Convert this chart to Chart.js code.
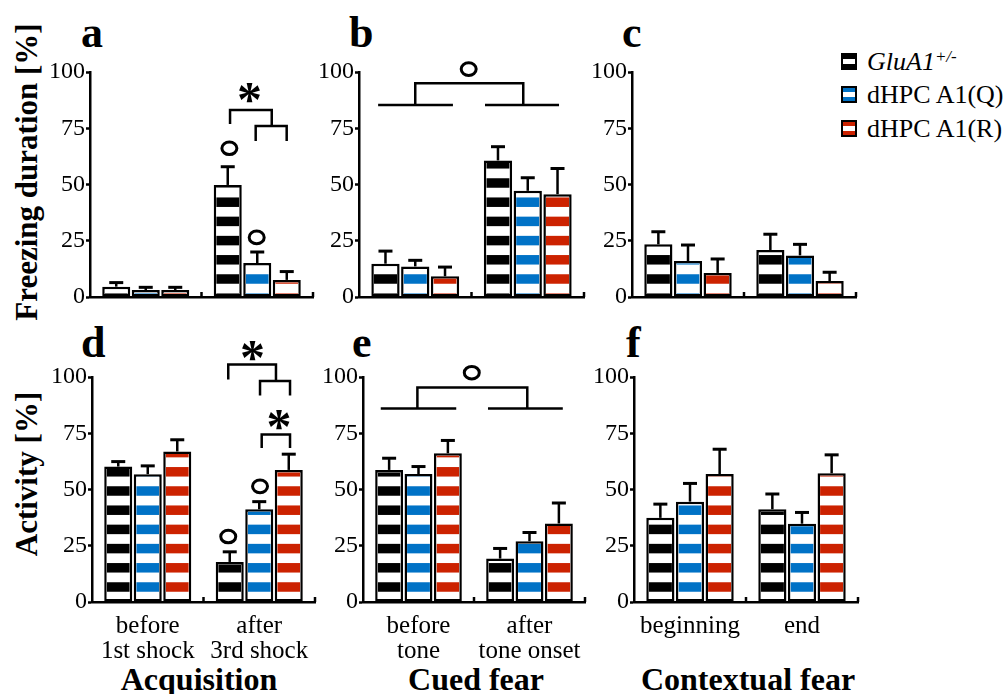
<!DOCTYPE html>
<html>
<head>
<meta charset="utf-8">
<script src="https://cdn.jsdelivr.net/npm/chart.js@4.4.1/dist/chart.umd.min.js"></script>
<style>
  body { margin: 0; background: #fff; width: 1005px; height: 694px; position: relative; overflow: hidden;
         font-family: "Liberation Serif", "Times New Roman", serif; color: #000; }
  canvas { position: absolute; }
  .t { position: absolute; line-height: 1; white-space: nowrap; }
  .letter { font-weight: bold; font-size: 44px; }
  .ytitle { font-weight: bold; font-size: 31px; transform: translate(-50%, -50%) rotate(-90deg); }
  .group { font-weight: bold; font-size: 32px; width: 300px; text-align: center; }
  .box { position: absolute; left: 841px; width: 16px; height: 17px; box-sizing: border-box; border: 2px solid #000;
         background: linear-gradient(var(--c) 0 34%, #fff 34% 66%, var(--c) 66% 100%); }
  .leg { left: 867px; font-size: 26px; }
</style>
</head>
<body>

<div class="t letter" style="left:81px;top:11px">a</div>
<div class="t letter" style="left:349px;top:11px">b</div>
<div class="t letter" style="left:622px;top:11px">c</div>
<div class="t letter" style="left:81px;top:321px">d</div>
<div class="t letter" style="left:352px;top:321px">e</div>
<div class="t letter" style="left:626px;top:321px">f</div>

<div class="t ytitle" style="left:26px;top:172px">Freezing duration [%]</div>
<div class="t ytitle" style="left:26px;top:474px">Activity [%]</div>

<div class="t group" style="left:49px;top:663px">Acquisition</div>
<div class="t group" style="left:326px;top:663px">Cued fear</div>
<div class="t group" style="left:598px;top:663px">Contextual fear</div>

<div class="box" style="top:53px;--c:#000"></div>
<div class="t leg" style="top:49px"><i>GluA1</i><i style="font-size:17px;position:relative;top:-8px">+/-</i></div>
<div class="box" style="top:86px;--c:#0072c6"></div>
<div class="t leg" style="top:82px">dHPC A1(Q)</div>
<div class="box" style="top:120px;--c:#cc2200"></div>
<div class="t leg" style="top:116px">dHPC A1(R)</div>

<script>
const SERIES = ['GluA1+/-', 'dHPC A1(Q)', 'dHPC A1(R)'];
const STRIPES = ['#000000', '#0072c6', '#cc2200'];
const acqLabels = [['before', '1st shock'], ['after', '3rd shock']];
const cueLabels = [['before', 'tone'], ['after', 'tone onset']];
const ctxLabels = ['beginning', 'end'];

// freezing duration [%], rows = GluA1+/-, A1(Q), A1(R); columns = the two periods
const frzAcqMean = [[4.6, 49.8], [3.1, 15.1], [3.1, 7.6]];
const frzAcqErr  = [[1.8, 8.1], [1.2, 4.9], [1.2, 3.7]];
const frzCueMean = [[14.8, 60.7], [13.6, 47.2], [9.2, 45.7]];
const frzCueErr  = [[5.6, 6.1], [2.7, 5.8], [4.1, 11.4]];
const frzCtxMean = [[23.4, 20.9], [16.0, 18.5], [10.7, 7.1]];
const frzCtxErr  = [[5.6, 7.0], [7.1, 4.9], [6.2, 3.9]];

// activity [%]
const actAcqMean = [[60.2, 17.8], [56.8, 41.2], [66.9, 58.7]];
const actAcqErr  = [[2.2, 4.5], [3.7, 3.4], [5.2, 7.0]];
const actCueMean = [[58.7, 19.3], [56.9, 27.0], [66.1, 34.9]];
const actCueErr  = [[5.2, 4.5], [3.3, 3.9], [5.7, 9.1]];
const actCtxMean = [[37.4, 41.2], [44.6, 34.8], [56.9, 57.2]];
const actCtxErr  = [[6.1, 6.8], [8.1, 5.0], [11.0, 8.2]];

// significance marks, x in category units (0 = first period, 1 = second), y in %
const marksA = {
  circles: [{ x: 0.75, y: 66.1 }, { x: 0.995, y: 26.5 }],
  brackets: [{ x1: 0.756, x2: 1.13, y: 83.1, y1: 76.9, y2: 76 }, { x1: 0.986, x2: 1.264, y: 76, y1: 69.3, y2: 69.3 }],
  stars: [{ x: 0.93, y: 90.7 }], lines: []
};
const marksB = {
  circles: [{ x: 0.475, y: 101.3 }],
  brackets: [{ x1: 0, x2: 0.96, y: 95, y1: 85.3, y2: 85.3 }],
  stars: [], lines: [{ x1: -0.33, x2: 0.335, y: 85.3 }, { x1: 0.62, x2: 1.278, y: 85.3 }]
};
const marksD = {
  circles: [{ x: 0.722, y: 29.1 }, { x: 1.007, y: 51.4 }],
  brackets: [{ x1: 0.722, x2: 1.15, y: 105.6, y1: 98.9, y2: 98.2 }, { x1: 1.007, x2: 1.276, y: 98.2, y1: 91.8, y2: 91.8 },
             { x1: 1.022, x2: 1.276, y: 74.4, y1: 68.5, y2: 68.5 }],
  stars: [{ x: 0.94, y: 111.5 }, { x: 1.177, y: 80.8 }], lines: []
};
const marksE = {
  circles: [{ x: 0.48, y: 101.9 }],
  brackets: [{ x1: -0.01, x2: 0.98, y: 95.3, y1: 86, y2: 86 }],
  stars: [], lines: [{ x1: -0.34, x2: 0.34, y: 86 }, { x1: 0.626, x2: 1.3, y: 86 }]
};
const noMarks = { circles: [], brackets: [], stars: [], lines: [] };

const SERIF = "'Liberation Serif', 'Times New Roman', serif";
Chart.defaults.font.family = SERIF;
Chart.defaults.color = '#000';

const ROWS = [
  { top: 0, height: 320, T: 72, B: 297, phase: 18 },
  { top: 320, height: 374, T: 377, B: 602, phase: 15 }
];

const panels = [
  { row: 0, L: 90,  R: 313, mean: frzAcqMean, err: frzAcqErr, labels: null, marks: marksA },
  { row: 0, L: 359, R: 584, mean: frzCueMean, err: frzCueErr, labels: null, marks: marksB },
  { row: 0, L: 632, R: 856, mean: frzCtxMean, err: frzCtxErr, labels: null, marks: noMarks },
  { row: 1, L: 92,  R: 315, mean: actAcqMean, err: actAcqErr, labels: acqLabels, marks: marksD },
  { row: 1, L: 363, R: 585, mean: actCueMean, err: actCueErr, labels: cueLabels, marks: marksE },
  { row: 1, L: 634, R: 858, mean: actCtxMean, err: actCtxErr, labels: ctxLabels, marks: noMarks }
];

function decor(p, row) {
  return {
    id: 'decor',
    afterDatasetsDraw(chart) {
      const ctx = chart.ctx, ys = chart.scales.y;
      const zero = ys.getPixelForValue(0);
      chart.data.datasets.forEach((ds, i) => {
        chart.getDatasetMeta(i).data.forEach((bar, j) => {
          const bw = 2.5;
          const l = bar.x - bar.width / 2 + bw, r = bar.x + bar.width / 2 - bw;
          const t = bar.y + bw, b = bar.base - bw;
          // horizontal stripes anchored to the zero line
          ctx.save();
          ctx.beginPath(); ctx.rect(l, t, r - l, b - t); ctx.clip();
          ctx.fillStyle = ds.stripe;
          for (let c = row.phase - 19.2; zero - c - 5 > t - 10; c += 19.2) ctx.fillRect(l, zero - c - 4.75, r - l, 9.5);
          ctx.restore();
          // upper error bar
          const top = ys.getPixelForValue(ds.data[j] + ds.err[j]);
          ctx.save();
          ctx.strokeStyle = '#000';
          ctx.lineWidth = 2.5;
          ctx.beginPath(); ctx.moveTo(bar.x, bar.y); ctx.lineTo(bar.x, top); ctx.stroke();
          ctx.lineWidth = 3;
          ctx.beginPath(); ctx.moveTo(bar.x - 7, top); ctx.lineTo(bar.x + 7, top); ctx.stroke();
          ctx.restore();
        });
      });
    },
    afterDraw(chart) {
      const ctx = chart.ctx, xs = chart.scales.x, ys = chart.scales.y;
      const c0 = xs.getPixelForValue(0), cw = xs.getPixelForValue(1) - c0;
      const px = u => c0 + u * cw, py = v => ys.getPixelForValue(v);
      const m = p.marks;
      ctx.save();
      ctx.strokeStyle = '#000'; ctx.fillStyle = '#000'; ctx.lineWidth = 2.5;
      // small upward ticks at the period boundaries
      [0.5, 1.5].forEach(u => {
        ctx.beginPath(); ctx.moveTo(px(u), py(0)); ctx.lineTo(px(u), py(0) - 5); ctx.stroke();
      });
      m.lines.forEach(s => {
        ctx.beginPath(); ctx.moveTo(px(s.x1), py(s.y)); ctx.lineTo(px(s.x2), py(s.y)); ctx.stroke();
      });
      m.brackets.forEach(s => {
        ctx.beginPath();
        ctx.moveTo(px(s.x1), py(s.y1)); ctx.lineTo(px(s.x1), py(s.y));
        ctx.lineTo(px(s.x2), py(s.y)); ctx.lineTo(px(s.x2), py(s.y2));
        ctx.stroke();
      });
      ctx.lineWidth = 3;
      m.circles.forEach(s => {
        ctx.beginPath(); ctx.ellipse(px(s.x), py(s.y), 7.5, 6.3, 0, 0, Math.PI * 2); ctx.stroke();
      });
      m.stars.forEach(s => {
        ctx.font = 'bold 40px ' + SERIF;
        let mt = ctx.measureText('*');
        const size = 40 * 20 / (mt.actualBoundingBoxAscent + mt.actualBoundingBoxDescent);
        ctx.font = 'bold ' + size.toFixed(1) + 'px ' + SERIF;
        mt = ctx.measureText('*');
        ctx.textAlign = 'left'; ctx.textBaseline = 'alphabetic';
        const tx = px(s.x) - (mt.actualBoundingBoxRight - mt.actualBoundingBoxLeft) / 2;
        const ty = py(s.y) + (mt.actualBoundingBoxAscent - mt.actualBoundingBoxDescent) / 2;
        ctx.fillText('*', tx, ty);
      });
      ctx.restore();
    }
  };
}

panels.forEach(p => {
  const row = ROWS[p.row];
  const xh = p.labels ? 70 : 10;
  const cv = document.createElement('canvas');
  const w = p.R - p.L + 85;
  cv.width = w; cv.height = row.height;
  cv.style.left = (p.L - 60) + 'px'; cv.style.top = row.top + 'px';
  cv.style.width = w + 'px'; cv.style.height = row.height + 'px';
  document.body.appendChild(cv);

  new Chart(cv, {
    type: 'bar',
    data: {
      labels: p.labels || ['', ''],
      datasets: SERIES.map((s, i) => ({
        label: s, data: p.mean[i], err: p.err[i], stripe: STRIPES[i],
        backgroundColor: '#fff', borderColor: '#000', borderWidth: 2.5, borderSkipped: false,
        categoryPercentage: 0.794, barPercentage: 0.95
      }))
    },
    options: {
      responsive: false, animation: false, devicePixelRatio: 1,
      layout: { padding: { left: 10, right: 25, top: row.T - row.top, bottom: row.top + row.height - row.B - xh } },
      plugins: { legend: { display: false }, tooltip: { enabled: false } },
      scales: {
        x: {
          grid: { display: false, drawTicks: false },
          border: { display: true, color: '#000', width: 2.5 },
          ticks: { display: !!p.labels, color: '#000', padding: 12, maxRotation: 0, minRotation: 0, autoSkip: false,
                   font: { family: SERIF, size: 25, lineHeight: 1.0 } },
          afterFit: s => { s.height = xh; }
        },
        y: {
          min: 0, max: 100,
          ticks: { stepSize: 25, color: '#000', padding: 1, font: { family: SERIF, size: 24 } },
          grid: { drawOnChartArea: false, tickLength: 4, tickWidth: 2.5, tickColor: '#000' },
          border: { display: true, color: '#000', width: 2.5 },
          afterFit: s => { s.width = 50; }
        }
      }
    },
    plugins: [decor(p, row)]
  });
});
</script>
</body>
</html>
